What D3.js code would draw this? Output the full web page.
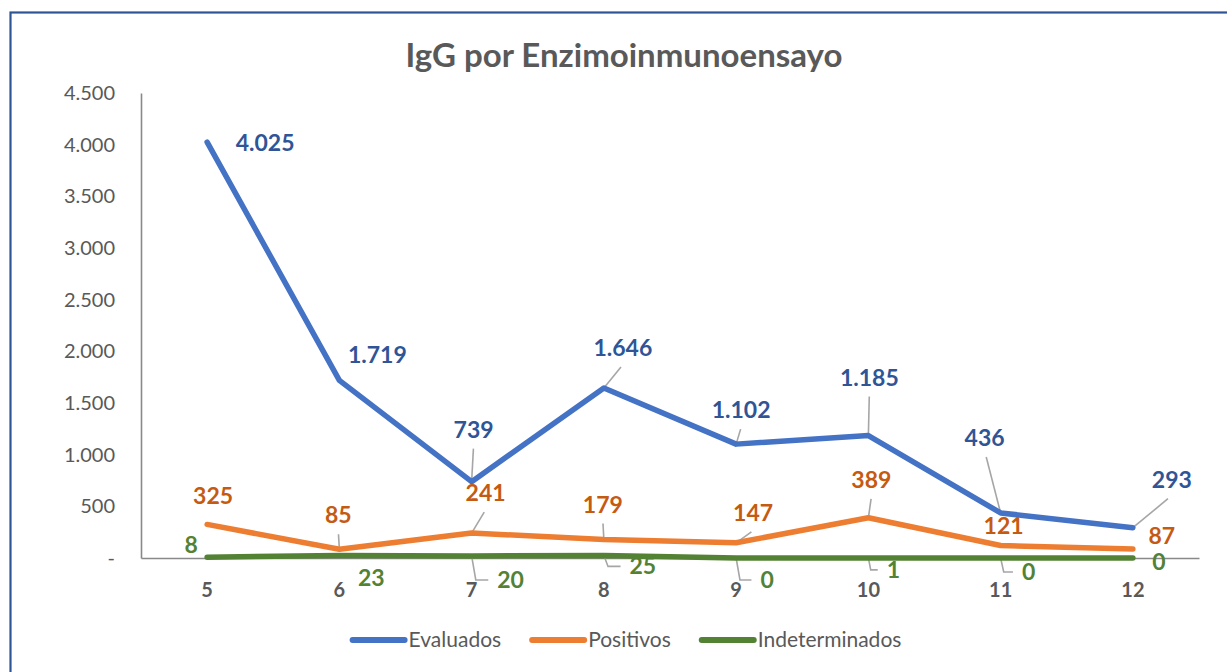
<!DOCTYPE html>
<html>
<head>
<meta charset="utf-8">
<script src="https://cdn.jsdelivr.net/npm/d3@7"></script>
<style>
  html, body { margin: 0; padding: 0; background: #fff; }
  svg { display: block; }
  text { font-family: Lato, "Open Sans", sans-serif; }
</style>
</head>
<body>
<svg id="chart" width="1227" height="672"></svg>
<script>
// ---- data ----
const categories = ["5", "6", "7", "8", "9", "10", "11", "12"];
const evaluados = [4025, 1719, 739, 1646, 1102, 1185, 436, 293];
const positivos = [325, 85, 241, 179, 147, 389, 121, 87];
const indeterminados = [8, 23, 20, 25, 0, 1, 0, 0];
const seriesNames = ["Evaluados", "Positivos", "Indeterminados"];
const yTicks = [0, 500, 1000, 1500, 2000, 2500, 3000, 3500, 4000, 4500];
const title = "IgG por Enzimoinmunoensayo";

// ---- layout / style (not data) ----
const colors = ["#4472C4", "#ED7D31", "#548235"];
const labelColors = ["#2F5597", "#C55A11", "#548235"];
// label offsets [dx, dy] from the point, and leader style
const labelOffsets = [
  [[58, 1], [38, -25], [2, -52], [19, -40], [5, -34], [1, -58], [-16, -75], [39, -48]],
  [[6, -28], [-1, -34], [14, -40], [-1, -35], [17, -30], [3, -38], [3, -20], [29, -13]],
  [[-16, -12], [32, 22], [39, 24], [39, 11], [31, 22], [25, 12], [28, 14], [26, 4]]
];
const leaders = [
  [0, 0, 1, 1, 1, 1, 1, 1],
  [0, 1, 1, 1, 1, 1, 0, 0],
  [0, 0, 2, 2, 2, 2, 2, 0]
];

const svg = d3.select("#chart");
const plot = { left: 141, right: 1199, top: 93, bottom: 558 };

// frame
svg.append("rect").attr("x", 10.5).attr("y", 12.5).attr("width", 1400).attr("height", 900)
  .attr("fill", "none").attr("stroke", "#2F5597").attr("stroke-width", 2.2);

const locale = d3.formatLocale({ decimal: ",", thousands: ".", grouping: [3], currency: ["", ""] });
const fmt = locale.format(",d");

const x = d3.scaleBand().domain(categories).range([plot.left, plot.right]);
const y = d3.scaleLinear().domain([0, 4500]).range([plot.bottom, plot.top]);
const cx = c => x(c) + x.bandwidth() / 2;

// title
svg.append("text").attr("x", 624).attr("y", 67).attr("text-anchor", "middle")
  .attr("font-size", 33).attr("font-weight", 700).attr("fill", "#595959").text(title);

// y axis
const yAxis = d3.axisLeft(y).tickValues(yTicks).tickSize(0).tickPadding(26)
  .tickFormat(d => d === 0 ? "-" : fmt(d));
const gy = svg.append("g").attr("transform", `translate(${plot.left},0)`).call(yAxis);
gy.select(".domain").attr("stroke", "#898989").attr("stroke-width", 1.6);
gy.selectAll("text").attr("font-size", 20).attr("fill", "#595959")
  .attr("font-family", "Lato, sans-serif");

// x axis
const xAxis = d3.axisBottom(x).tickSize(0).tickPadding(25);
const gx = svg.append("g").attr("transform", `translate(0,${plot.bottom})`).call(xAxis);
gx.select(".domain").attr("stroke", "#898989").attr("stroke-width", 1.6);
gx.selectAll("text").attr("font-size", 20).attr("font-weight", 700).attr("fill", "#595959")
  .attr("font-family", "Lato, sans-serif");

const allSeries = [evaluados, positivos, indeterminados];
const line = d3.line().x((d, i) => cx(categories[i])).y(d => y(d));

// leader lines (drawn under lines)
const gLead = svg.append("g");
// lines
allSeries.forEach((s, si) => {
  svg.append("path").datum(s).attr("d", line).attr("fill", "none")
    .attr("stroke", colors[si]).attr("stroke-width", 5.5)
    .attr("stroke-linejoin", "round").attr("stroke-linecap", "round");
});

// labels
const fs = 23;
allSeries.forEach((s, si) => {
  s.forEach((v, i) => {
    const px = cx(categories[i]), py = y(v);
    const [dx, dy] = labelOffsets[si][i];
    const lx = px + dx, ly = py + dy;
    const t = svg.append("text").attr("x", lx).attr("y", ly).attr("dy", "0.35em")
      .attr("text-anchor", "middle").attr("font-size", fs).attr("font-weight", 700)
      .attr("fill", labelColors[si]).text(fmt(v));
    const bb = t.node().getBBox();
    const kind = leaders[si][i];
    if (kind === 1) {
      const ty = ly + 9 + 10;
      const tx = lx + (px - lx) * 0.1;
      gLead.append("line").attr("x1", px).attr("y1", py).attr("x2", tx).attr("y2", ty)
        .attr("stroke", "#A6A6A6").attr("stroke-width", 1.6);
    } else if (kind === 2) {
      const ex = bb.x - 9;
      const midx = px + (ex - px) * 0.25;
      gLead.append("polyline")
        .attr("points", `${px},${py} ${midx},${ly} ${ex},${ly}`)
        .attr("fill", "none").attr("stroke", "#A6A6A6").attr("stroke-width", 1.6);
    }
  });
});

// legend
const legend = svg.append("g");
const items = [];
seriesNames.forEach((name, si) => {
  const g = legend.append("g");
  g.append("line").attr("x1", 0).attr("x2", 52).attr("y1", 0).attr("y2", 0)
    .attr("stroke", colors[si]).attr("stroke-width", 6).attr("stroke-linecap", "round");
  const t = g.append("text").attr("x", 56).attr("y", 0).attr("dy", "0.35em")
    .attr("font-size", 21).attr("fill", "#595959").text(name);
  const w = 56 + t.node().getComputedTextLength();
  items.push({ g, w });
});
const total = items.reduce((a, b) => a + b.w, 0) + 31 * (items.length - 1);
let start = 627 - total / 2;
items.forEach(it => {
  it.g.attr("transform", `translate(${start},640)`);
  start += it.w + 31;
});
</script>
</body>
</html>
